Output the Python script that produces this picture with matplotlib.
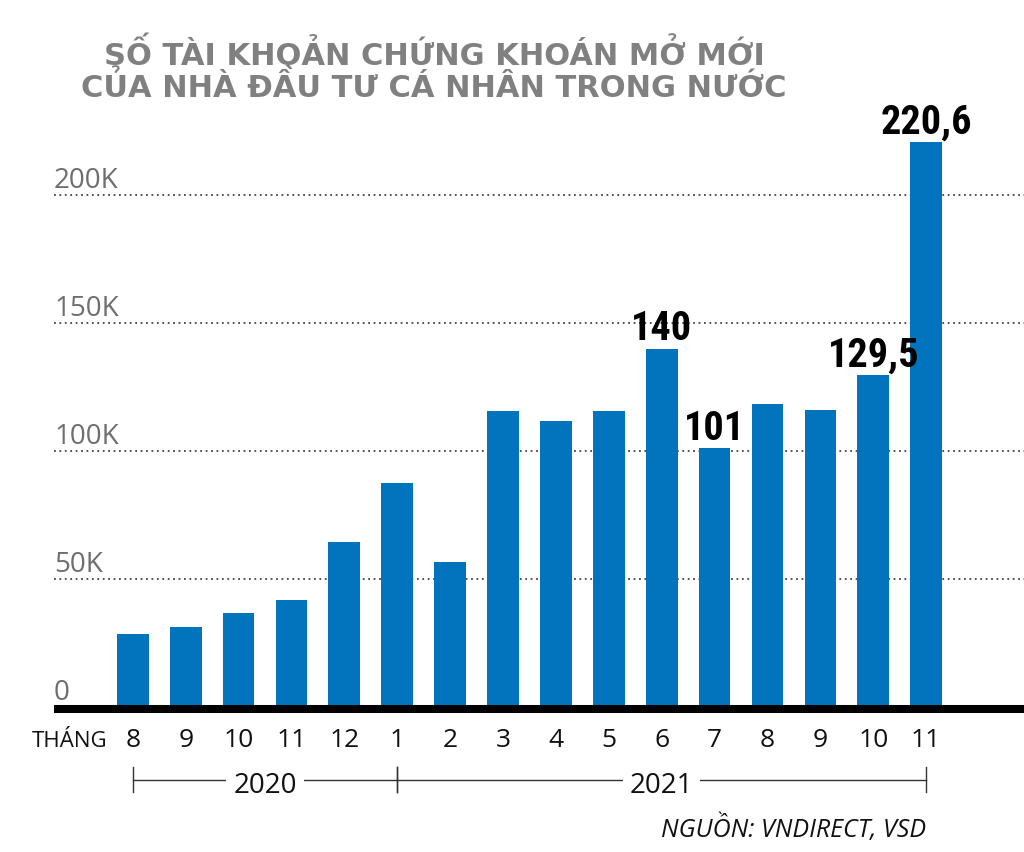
import numpy as np
import matplotlib.pyplot as plt

# dữ liệu (nghìn tài khoản)
months = ['8', '9', '10', '11', '12', '1', '2', '3', '4', '5', '6', '7', '8', '9', '10', '11']
values = [28.6, 31.4, 36.7, 41.7, 64.4, 87.4, 56.6, 115.5, 111.8, 115.5,
          140, 101, 118.2, 116.0, 129.5, 220.6]
labels = {10: '140', 11: '101', 14: '129,5', 15: '220,6'}
yticks = [0, 50, 100, 150, 200]
ytick_labels = ['0', '50K', '100K', '150K', '200K']
years = [('2020', 0, 5), ('2021', 5, 15)]

BLUE = '#0273bd'
GRAY = '#6d6e71'
base_font = ['Open Sans', 'DejaVu Sans']
num_font = ['Roboto Condensed', 'Open Sans Condensed', 'Noto Sans', 'DejaVu Sans']

fig = plt.figure(figsize=(10.24, 8.52), dpi=100)
ax = fig.add_axes([54 / 1024, (852 - 713) / 852, 970 / 1024, 613 / 852])
x = np.arange(len(values))
ax.bar(x, values, width=0.6, color=BLUE, zorder=2)
ax.set_xlim(-1.49, 16.85)
ax.set_ylim(-2.34, 237.1)
ax.axis('off')

# đường lưới chấm + nhãn trục y
for v, t in zip(yticks, ytick_labels):
    if v > 0:
        ax.axhline(v, color='#444444', lw=1.3, ls=(0, (1, 2)), zorder=1)
    ax.text(0, v + 2.6, t, transform=ax.get_yaxis_transform(), ha='left',
            va='baseline', fontsize=20, color=GRAY, family=base_font)

# đường đáy
ax.axhline(-0.6, color='black', lw=6.5, zorder=3)

# nhãn giá trị
for i, t in labels.items():
    ax.annotate(t, (i, values[i]), xytext=(0, 6), textcoords='offset points',
                ha='center', va='baseline', fontsize=29, fontweight='bold',
                fontstretch='condensed', family=num_font, color='black')

# nhãn tháng
tr = ax.get_xaxis_transform()
for i, m in enumerate(months):
    ax.text(i, -0.0555, m, transform=tr, ha='center', va='baseline',
            fontsize=19, color='#111111', family=base_font)
ax.text(-0.49, -0.0555, 'THÁNG', transform=tr, ha='right', va='baseline',
        fontsize=16, color='#111111', family=base_font)

# khung năm
for name, a, b in years:
    ax.plot([a, b], [-0.110, -0.110], color='#333333', lw=1, transform=tr, clip_on=False)
    for e in (a, b):
        ax.plot([e, e], [-0.088, -0.129], color='#333333', lw=1, transform=tr, clip_on=False)
    ax.text((a + b) / 2, -0.130, name, transform=tr, ha='center', va='baseline',
            fontsize=20, color='#111111', family=base_font,
            bbox=dict(facecolor='white', edgecolor='none', pad=5))

# nguồn
ax.text(15.0, -0.2023, 'NGUỒN: VNDIRECT, VSD', transform=tr, ha='right', va='baseline',
        fontsize=18, style='italic', color='#111111', family=base_font)

# tiêu đề
title_font = ['DejaVu Sans']
fig.text(0.424, (852 - 65) / 852, 'SỐ TÀI KHOẢN CHỨNG KHOÁN MỞ MỚI', ha='center',
         va='baseline', fontsize=22, fontweight='bold', color='#808080', family=title_font)
fig.text(0.424, (852 - 97) / 852, 'CỦA NHÀ ĐẦU TƯ CÁ NHÂN TRONG NƯỚC', ha='center',
         va='baseline', fontsize=22, fontweight='bold', color='#808080', family=title_font)

fig.savefig('out.png', dpi=100)
